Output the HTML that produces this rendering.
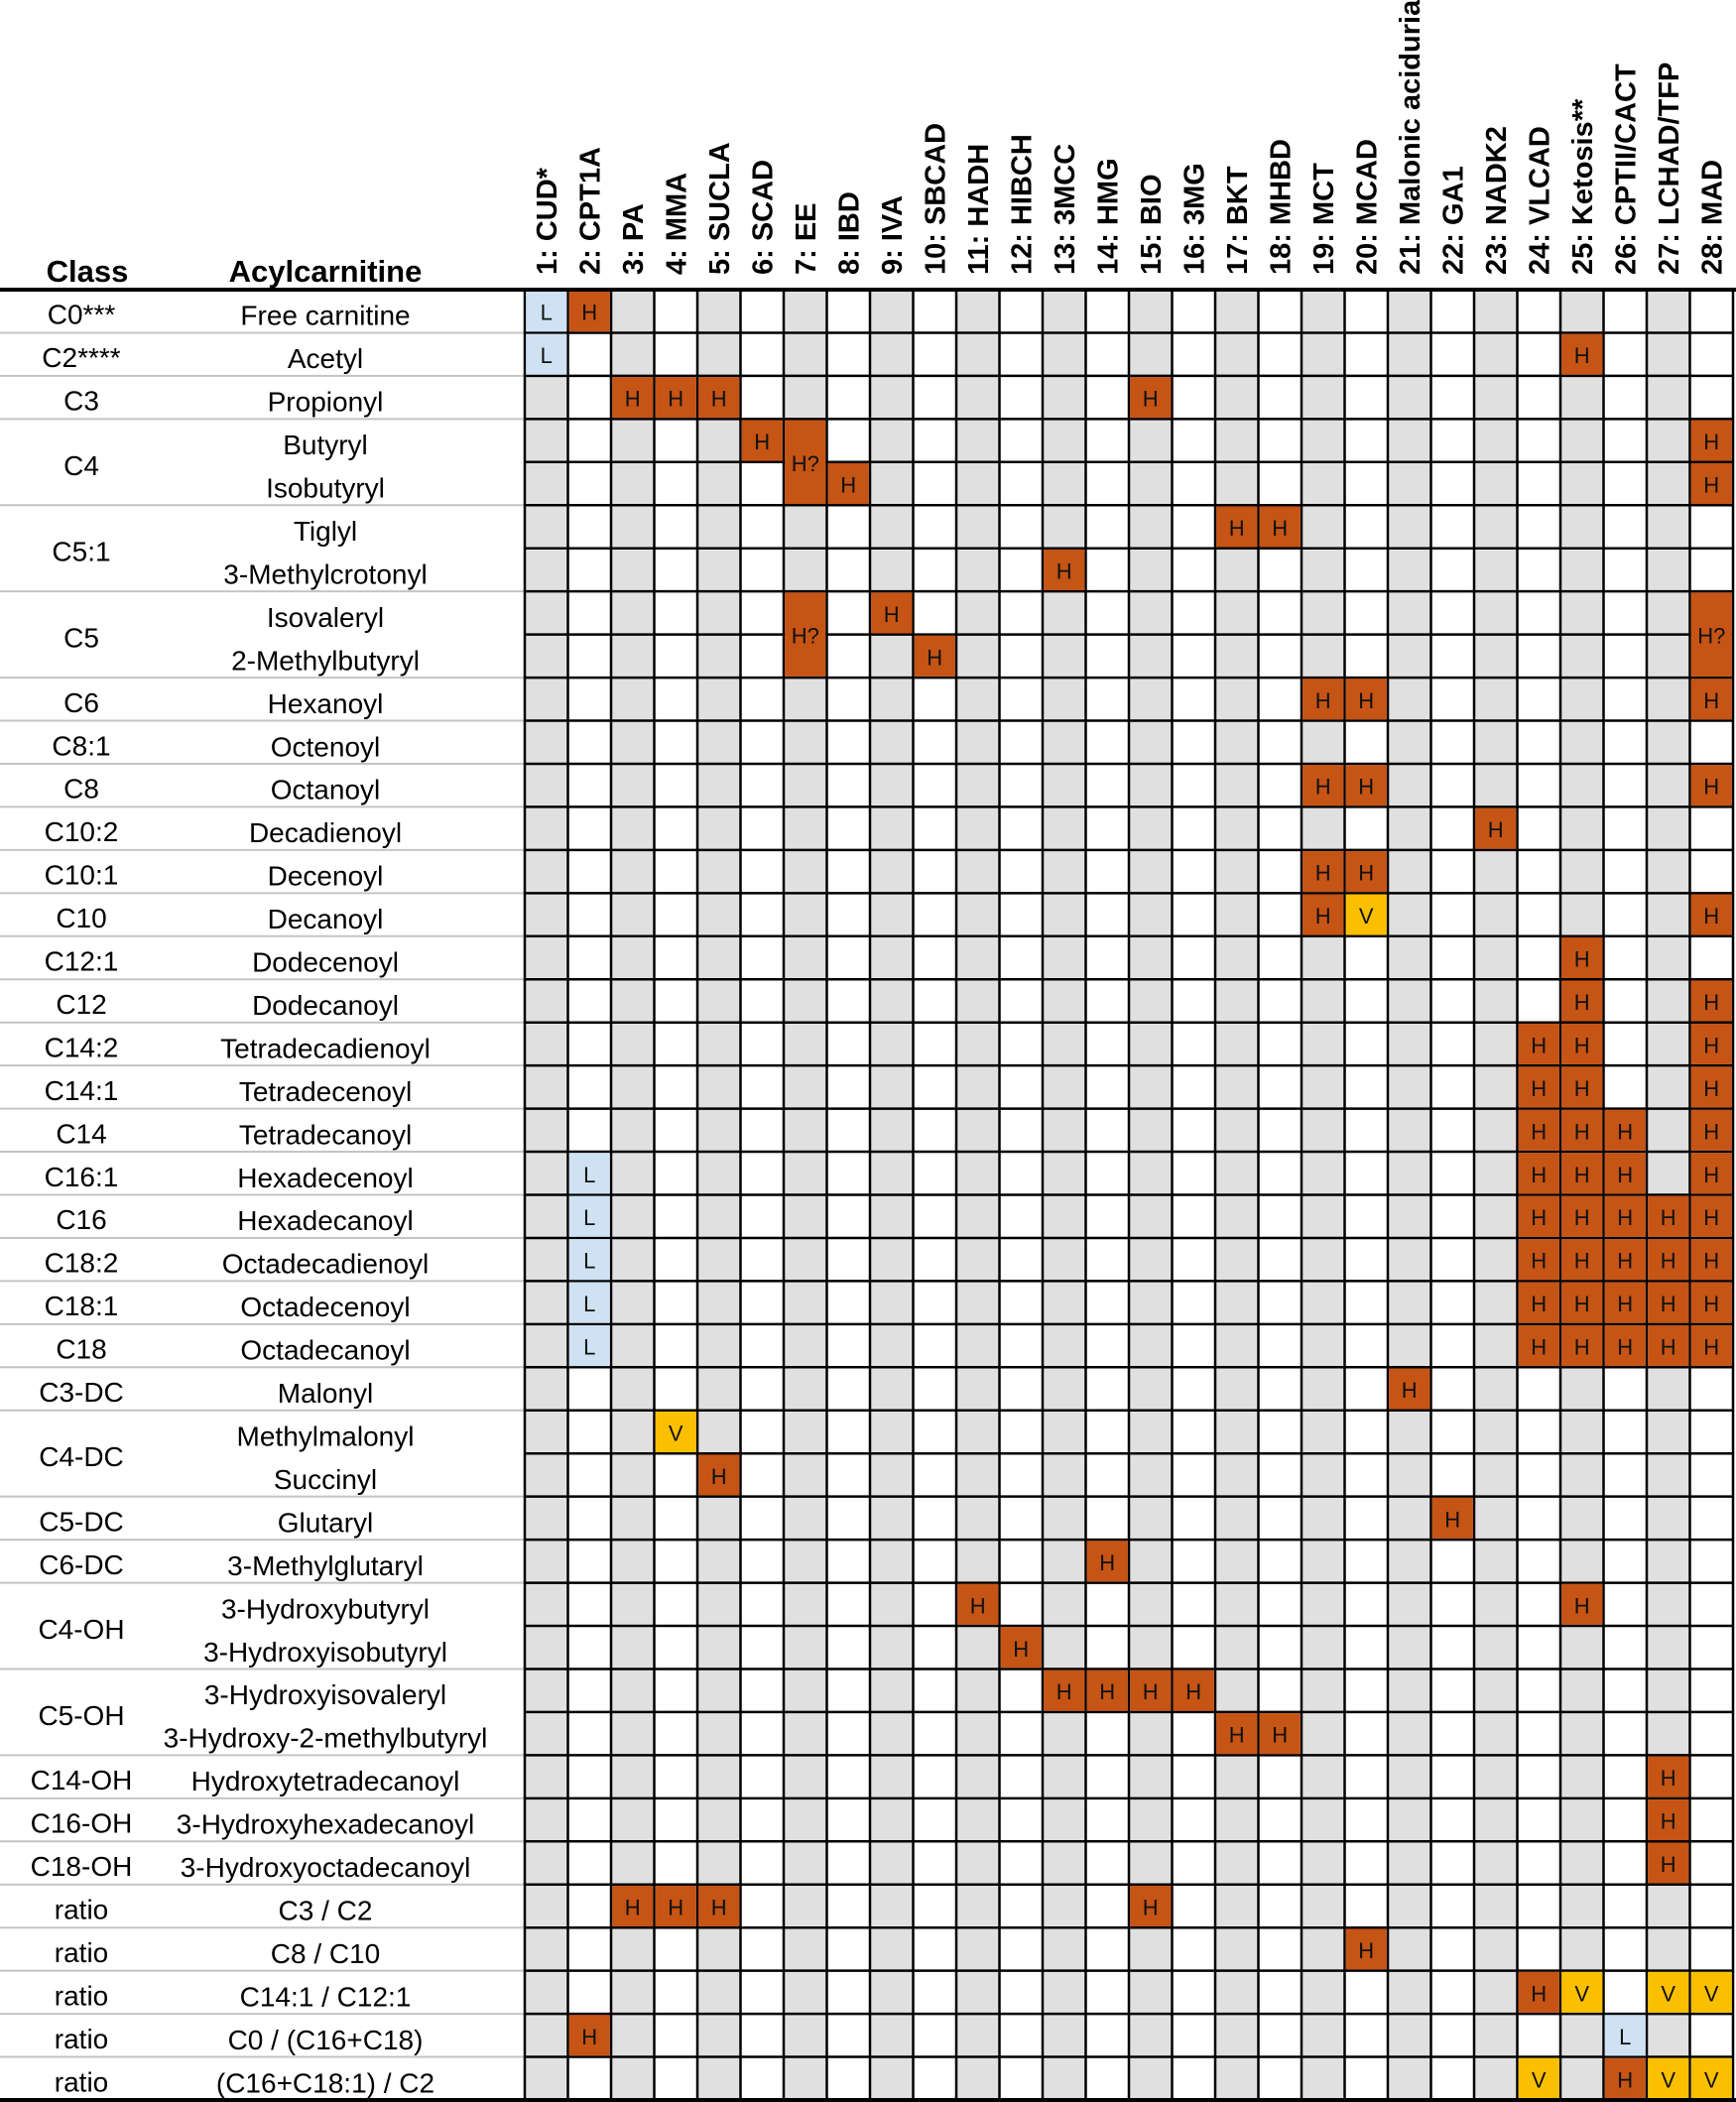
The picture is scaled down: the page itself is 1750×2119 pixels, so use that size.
<!DOCTYPE html>
<html><head><meta charset="utf-8"><style>
html,body{margin:0;padding:0;background:#fff;}
svg{display:block;font-family:"Liberation Sans",Arial,sans-serif;}
</style></head><body>
<svg id="chart" width="1750" height="2119" viewBox="0 0 1750 2119" xmlns="http://www.w3.org/2000/svg"></svg>
<script>
const disorders=["1: CUD*","2: CPT1A","3: PA","4: MMA","5: SUCLA","6: SCAD","7: EE","8: IBD","9: IVA","10: SBCAD","11: HADH","12: HIBCH","13: 3MCC","14: HMG","15: BIO","16: 3MG","17: BKT","18: MHBD","19: MCT","20: MCAD","21: Malonic aciduria","22: GA1","23: NADK2","24: VLCAD","25: Ketosis**","26: CPTII/CACT","27: LCHAD/TFP","28: MAD"];
const acyls=["Free carnitine","Acetyl","Propionyl","Butyryl","Isobutyryl","Tiglyl","3-Methylcrotonyl","Isovaleryl","2-Methylbutyryl","Hexanoyl","Octenoyl","Octanoyl","Decadienoyl","Decenoyl","Decanoyl","Dodecenoyl","Dodecanoyl","Tetradecadienoyl","Tetradecenoyl","Tetradecanoyl","Hexadecenoyl","Hexadecanoyl","Octadecadienoyl","Octadecenoyl","Octadecanoyl","Malonyl","Methylmalonyl","Succinyl","Glutaryl","3-Methylglutaryl","3-Hydroxybutyryl","3-Hydroxyisobutyryl","3-Hydroxyisovaleryl","3-Hydroxy-2-methylbutyryl","Hydroxytetradecanoyl","3-Hydroxyhexadecanoyl","3-Hydroxyoctadecanoyl","C3 / C2","C8 / C10","C14:1 / C12:1","C0 / (C16+C18)","(C16+C18:1) / C2"];
const classNames=["C0***","C2****","C3","C4","C5:1","C5","C6","C8:1","C8","C10:2","C10:1","C10","C12:1","C12","C14:2","C14:1","C14","C16:1","C16","C18:2","C18:1","C18","C3-DC","C4-DC","C5-DC","C6-DC","C4-OH","C5-OH","C14-OH","C16-OH","C18-OH","ratio","ratio","ratio","ratio","ratio"];
const classSpans=[1,1,1,2,2,2,1,1,1,1,1,1,1,1,1,1,1,1,1,1,1,1,1,2,1,1,2,2,1,1,1,1,1,1,1,1];
const cells=[
[0,1,"L",1],[0,2,"H",1],[1,1,"L",1],[1,25,"H",1],
[2,3,"H",1],[2,4,"H",1],[2,5,"H",1],[2,15,"H",1],
[3,6,"H",1],[3,7,"H?",2],[3,28,"H",1],[4,8,"H",1],[4,28,"H",1],
[5,17,"H",1],[5,18,"H",1],[6,13,"H",1],
[7,7,"H?",2],[7,9,"H",1],[7,28,"H?",2],[8,10,"H",1],
[9,19,"H",1],[9,20,"H",1],[9,28,"H",1],
[11,19,"H",1],[11,20,"H",1],[11,28,"H",1],
[12,23,"H",1],[13,19,"H",1],[13,20,"H",1],
[14,19,"H",1],[14,20,"V",1],[14,28,"H",1],
[15,25,"H",1],[16,25,"H",1],[16,28,"H",1],
[17,24,"H",1],[17,25,"H",1],[17,28,"H",1],
[18,24,"H",1],[18,25,"H",1],[18,28,"H",1],
[19,24,"H",1],[19,25,"H",1],[19,26,"H",1],[19,28,"H",1],
[20,2,"L",1],[20,24,"H",1],[20,25,"H",1],[20,26,"H",1],[20,28,"H",1],
[21,2,"L",1],[21,24,"H",1],[21,25,"H",1],[21,26,"H",1],[21,27,"H",1],[21,28,"H",1],
[22,2,"L",1],[22,24,"H",1],[22,25,"H",1],[22,26,"H",1],[22,27,"H",1],[22,28,"H",1],
[23,2,"L",1],[23,24,"H",1],[23,25,"H",1],[23,26,"H",1],[23,27,"H",1],[23,28,"H",1],
[24,2,"L",1],[24,24,"H",1],[24,25,"H",1],[24,26,"H",1],[24,27,"H",1],[24,28,"H",1],
[25,21,"H",1],[26,4,"V",1],[27,5,"H",1],[28,22,"H",1],[29,14,"H",1],
[30,11,"H",1],[30,25,"H",1],[31,12,"H",1],
[32,13,"H",1],[32,14,"H",1],[32,15,"H",1],[32,16,"H",1],
[33,17,"H",1],[33,18,"H",1],
[34,27,"H",1],[35,27,"H",1],[36,27,"H",1],
[37,3,"H",1],[37,4,"H",1],[37,5,"H",1],[37,15,"H",1],
[38,20,"H",1],
[39,24,"H",1],[39,25,"V",1],[39,27,"V",1],[39,28,"V",1],
[40,2,"H",1],[40,26,"L",1],
[41,24,"V",1],[41,26,"H",1],[41,27,"V",1],[41,28,"V",1]
];
const svg=document.getElementById('chart');
const NS="http://www.w3.org/2000/svg";
const gx0=529,gx1=1747,gy0=292,gy1=2117;
const nC=disorders.length,nR=acyls.length;
const cw=(gx1-gx0)/nC,rh=(gy1-gy0)/nR;
const xCol=c=>gx0+(c-1)*cw;
const yRow=r=>gy0+r*rh;
const fills={H:"#c55415",V:"#fac000",L:"#cfe2f3","H?":"#c55415"};
function mk(tag,attrs,parent){const e=document.createElementNS(NS,tag);for(const k in attrs)e.setAttribute(k,attrs[k]);(parent||svg).appendChild(e);return e;}
for(let c=1;c<=nC;c++){
  const r=mk('rect',{x:xCol(c),y:gy0,width:cw,height:gy1-gy0,fill:c%2?"#e0e0e0":"#ffffff"});
  
  
}
const hc=mk('text',{x:88,y:284,'font-size':31,'font-weight':'bold','text-anchor':'middle'});hc.textContent="Class";


const ha=mk('text',{x:328,y:284,'font-size':31,'font-weight':'bold','text-anchor':'middle'});ha.textContent="Acylcarnitine";


disorders.forEach((d,i)=>{
  const cx=xCol(i+1)+cw/2+10;
  const t=mk('text',{x:cx,y:277,'font-size':29,'font-weight':'bold',transform:`rotate(-90 ${cx} 277)`});
  t.textContent=d;
  
  
});
acyls.forEach((a,i)=>{
  const t=mk('text',{x:328,y:yRow(i)+rh/2+14,'font-size':28,'text-anchor':'middle'});
  t.textContent=a;
  
  
});
let r0=0;
classNames.forEach((c,i)=>{
  const s=classSpans[i];
  const t=mk('text',{x:82,y:yRow(r0)+s*rh/2+13,'font-size':28,'text-anchor':'middle'});
  t.textContent=c;
  
  
  r0+=s;
  if(r0<nR){
    const l=mk('line',{x1:0,x2:gx0,y1:yRow(r0),y2:yRow(r0),stroke:"#c4c4c4",'stroke-width':2});
    
    
  }
});
for(let c=0;c<=nC;c++){
  const l=mk('line',{x1:gx0+c*cw,x2:gx0+c*cw,y1:gy0,y2:gy1,stroke:"#000",'stroke-width':2.5});
  
  
}
for(let r=1;r<nR;r++){
  const l=mk('line',{x1:gx0,x2:gx1,y1:yRow(r),y2:yRow(r),stroke:"#000",'stroke-width':2.5});
  
  
}
cells.forEach(([r,c,v,span])=>{
  const g=mk('g',{});
  
  
  mk('rect',{x:xCol(c)+1.2,y:yRow(r)+1.2,width:cw-2.4,height:span*rh-2.4,fill:fills[v]},g);
  const t=mk('text',{x:xCol(c)+cw/2,y:yRow(r)+span*rh/2+9,'font-size':22,'text-anchor':'middle',fill:"#111"},g);
  t.textContent=v;
});
const topRule=mk('line',{x1:0,x2:1750,y1:gy0,y2:gy0,stroke:"#000",'stroke-width':4});


const botRule=mk('line',{x1:0,x2:1750,y1:gy1,y2:gy1,stroke:"#000",'stroke-width':4});


</script>
</body></html>
